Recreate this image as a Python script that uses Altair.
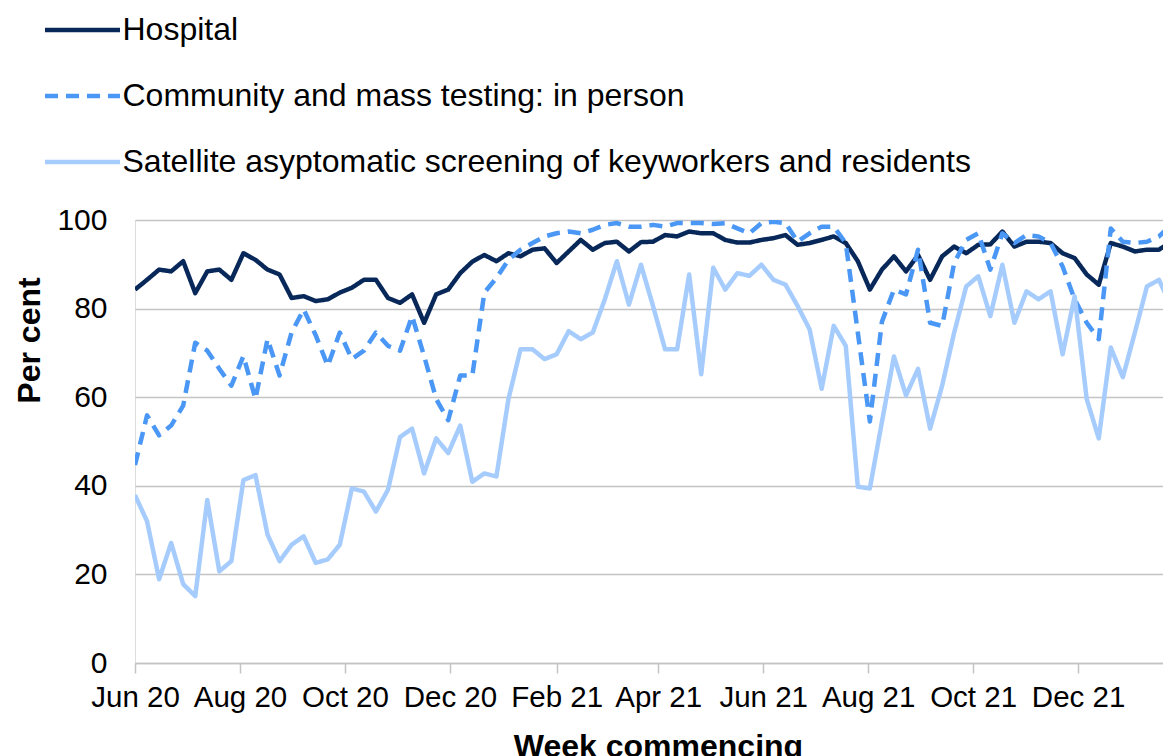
import altair as alt
import pandas as pd

# ---- data ----
series_names = [
    "Hospital",
    "Community and mass testing: in person",
    "Satellite asyptomatic screening of keyworkers and residents",
]

# weekly, week commencing 1 Jun 2020 ... 24 Jan 2022 (87 weeks)
week_start = "2020-06-01"
n_weeks = 87

hospital = [
    84.3, 86.5, 88.8, 88.4, 90.7, 83.5, 88.4, 88.8, 86.5, 92.5,
    91.0, 88.8, 87.7, 82.4, 82.8, 81.7, 82.1, 83.6, 84.7, 86.5,
    86.5, 82.4, 81.3, 83.2, 76.8, 83.2, 84.3, 88.0, 90.6, 92.1,
    90.7, 92.5, 91.8, 93.3, 93.6, 90.3, 92.9, 95.5, 93.3, 94.8,
    95.1, 92.9, 95.0, 95.1, 96.6, 96.3, 97.4, 97.0, 97.0, 95.5,
    94.9, 94.9, 95.5, 95.9, 96.6, 94.4, 94.8, 95.5, 96.3, 94.8,
    90.7, 84.3, 88.8, 91.8, 88.4, 92.1, 86.5, 91.8, 94.0, 92.5,
    94.4, 94.5, 97.4, 94.0, 95.1, 95.1, 94.8, 92.5, 91.4, 87.7,
    85.4, 94.8, 94.0, 92.9, 93.3, 93.3, 95.1,
]

community = [
    44.7, 55.9, 51.4, 53.6, 58.1, 72.3, 70.5, 66.4, 62.6, 69.3,
    59.6, 73.1, 64.9, 74.6, 79.8, 74.0, 67.1, 74.6, 68.6, 70.5,
    74.6, 71.6, 70.5, 78.3, 69.3, 59.6, 54.8, 64.9, 64.9, 83.6,
    86.9, 91.0, 93.3, 94.8, 96.3, 97.0, 97.4, 97.0, 97.8, 98.9,
    99.3, 98.5, 98.5, 98.9, 98.5, 99.3, 99.3, 99.3, 99.1, 99.3,
    98.1, 97.0, 99.3, 99.6, 99.3, 95.1, 97.0, 98.5, 98.5, 94.8,
    74.6, 54.5, 77.0, 84.3, 83.2, 93.3, 76.8, 76.1, 90.3, 95.5,
    97.0, 88.8, 97.0, 94.8, 96.6, 96.3, 94.8, 89.5, 82.1, 76.8,
    73.1, 98.1, 95.1, 94.8, 95.1, 96.3, 98.9,
]

satellite = [
    37.9, 32.0, 18.9, 27.1, 17.8, 15.1, 36.8, 20.7, 23.0, 41.3,
    42.4, 29.0, 23.0, 26.7, 28.6, 22.6, 23.4, 26.7, 39.4, 38.7,
    34.2, 39.1, 51.0, 52.9, 42.8, 50.7, 47.4, 53.6, 40.9, 42.8,
    42.1, 59.6, 70.8, 70.8, 68.6, 69.7, 74.9, 73.1, 74.6, 82.1,
    90.7, 80.9, 89.9, 80.6, 70.8, 70.8, 87.7, 65.2, 89.2, 84.3,
    88.0, 87.4, 89.9, 86.5, 85.4, 80.6, 75.3, 61.9, 76.1, 71.6,
    39.8, 39.4, 54.4, 69.2, 60.4, 66.4, 52.9, 62.6, 74.6, 85.0,
    87.3, 78.3, 89.9, 76.8, 83.9, 82.1, 83.9, 69.7, 82.8, 59.6,
    50.7, 71.2, 64.5, 74.6, 85.0, 86.5, 80.6,
]

tick_months = [(2020, 6), (2020, 8), (2020, 10), (2020, 12), (2021, 2),
               (2021, 4), (2021, 6), (2021, 8), (2021, 10), (2021, 12)]
y_ticks = [0, 20, 40, 60, 80, 100]

colors = ["#08285a", "#4a97f5", "#a6ccfd"]
dashes = [[1, 0], [13, 8], [1, 0]]

# ---- table ----
weeks = pd.date_range(week_start, periods=n_weeks, freq="7D").strftime("%Y-%m-%dT00:00:00")
rows = []
for name, vals in zip(series_names, [hospital, community, satellite]):
    for w, v in zip(weeks, vals):
        rows.append({"week": w, "value": v, "series": name, "idx": series_names.index(name)})
df = pd.DataFrame(rows)

FONT = "Liberation Sans"
GRID = "#c4c4c4"

legend = alt.Legend(
    title=None, orient="none", legendX=-68.5, legendY=-206,
    symbolType="M-4,0H4", symbolSize=351.6, symbolStrokeWidth=4.5,
    labelFontSize=32, labelFont=FONT, labelColor="#000000",
    labelOffset=24, rowPadding=34, padding=0, labelLimit=2000,
    direction="vertical",
)

chart = alt.Chart(df).mark_line(strokeWidth=4.5, strokeJoin="round", clip=True).encode(
    x=alt.X(
        "week:T",
        scale=alt.Scale(domain=[alt.DateTime(year=2020, month=6, date=1),
                                alt.DateTime(year=2022, month=1, date=19, hours=8)]),
        axis=alt.Axis(
            values=[alt.DateTime(year=y, month=m, date=1) for y, m in tick_months],
            format="%b %y", labelFontSize=29.5, labelFont=FONT, labelColor="#000000",
            labelFlush=False, labelOverlap=False, labelPadding=10,
            tickSize=10, tickColor=GRID, tickWidth=1.5,
            domainColor=GRID, domainWidth=1.5, grid=False,
            title="Week commencing", titleFontSize=32, titleFont=FONT,
            titleFontWeight="bold", titleColor="#000000",
            titleX=523, titleAlign="center", titleY=68, titleBaseline="top",
        ),
    ),
    y=alt.Y(
        "value:Q",
        scale=alt.Scale(domain=[0, 100]),
        axis=alt.Axis(
            values=y_ticks, labelFontSize=30, labelFont=FONT, labelColor="#000000",
            ticks=False, domain=False, grid=True, gridColor=GRID, gridWidth=1.5,
            labelPadding=28,
            title="Per cent", titleFontSize=32, titleFont=FONT, titleFontWeight="bold",
            titleColor="#000000", titleAngle=270, titleX=-106, titleY=120,
            titleAlign="center", titleBaseline="middle",
        ),
    ),
    color=alt.Color("series:N", scale=alt.Scale(domain=series_names, range=colors), legend=legend),
    strokeDash=alt.StrokeDash("series:N", scale=alt.Scale(domain=series_names, range=dashes), legend=legend),
    order=alt.Order("idx:Q"),
).properties(
    width=1028, height=443,
    autosize=alt.AutoSizeParams(type="none"),
    padding={"left": 127, "top": 212, "right": 0, "bottom": 100},
).configure_view(stroke=None).configure(font=FONT)

chart.save("out.html", embed_options={"renderer": "svg", "actions": False})
